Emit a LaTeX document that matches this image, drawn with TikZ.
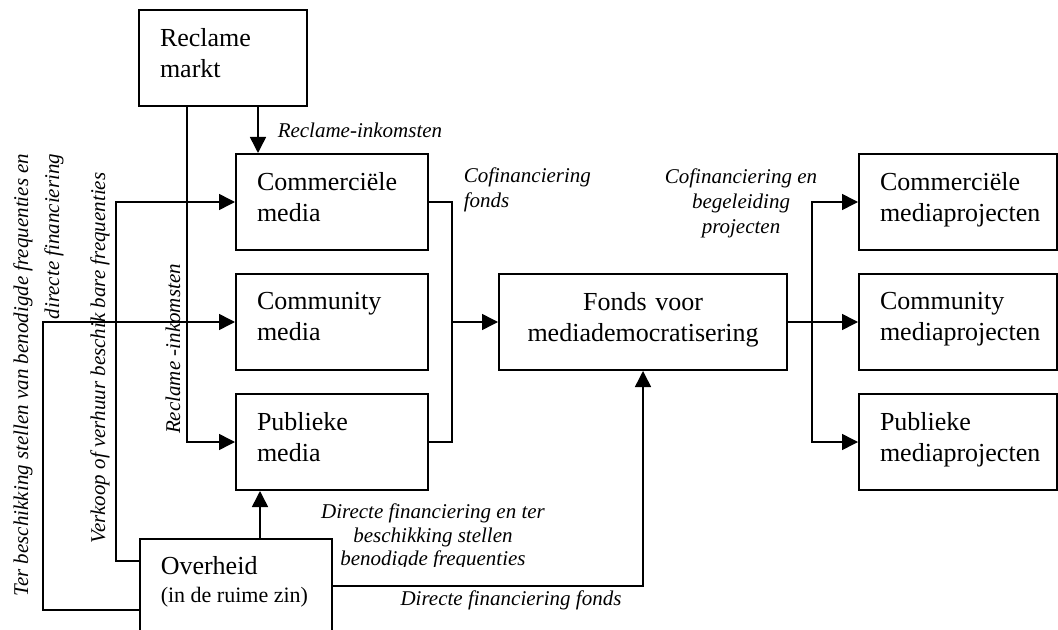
\documentclass[tikz,border=0pt]{standalone}
\usepackage{fontspec}
\setmainfont{Liberation Serif}
\usetikzlibrary{arrows.meta,positioning}

\begin{document}
\begin{tikzpicture}[x=0.5pt, y=-0.5pt, line width=0.75pt, >={Triangle[length=8pt,width=8pt]},
    box/.style={draw, line width=1pt, minimum height=48pt, inner xsep=10.5pt, text depth=21pt, align=left, font=\fontsize{13}{15.5}\selectfont},
    media box/.style={box, text width=75pt},
    project box/.style={box, text width=78pt},
    lbl/.style={inner sep=0pt, font=\fontsize{10.5}{12.5}\selectfont\itshape}]

    \clip (0,0) rectangle (1058,630);

    % Boxes
    \node[box, text width=63pt] (markt) at (223,58) {Reclame\\markt};
    \node[media box] (commercieel) at (332,202) {Commerciële\\media};
    \node[media box] (community) at (332,322) {Community\\media};
    \node[media box] (publiek) at (332,442) {Publieke\\media};
    \node[box, align=center, text width=123pt] (fonds) at (643,322) {Fonds voor\\mediademocratisering};
    \node[project box] (projcom) at (958,202) {Commerciële\\mediaprojecten};
    \node[project box] (projcommunity) at (958,322) {Community\\mediaprojecten};
    \node[project box] (projpub) at (958,442) {Publieke\\mediaprojecten};

    \node[draw, line width=1pt, minimum width=96pt, minimum height=70pt, inner sep=0pt, anchor=north west] (overheid) at (139,538) {};
    \node[anchor=north west, inner sep=0pt, align=left, font=\fontsize{13}{14}\selectfont] (ovtext) at ([xshift=10.5pt,yshift=-9pt]overheid.north west) {Overheid\\{\fontsize{11}{14}\selectfont (in de ruime zin)}};

    % Reclame markt
    \coordinate (marktA) at ([xshift=60pt]markt.south west);
    \coordinate (marktB) at ([xshift=24.5pt]markt.south west);
    \draw[->] (marktA) -- (marktA |- commercieel.north) node[lbl, midway, right=9.5pt] {Reclame-inkomsten};
    \draw[->] (marktB) |- (publiek.west);

    % Overheid
    \coordinate (ovA) at ([yshift=-11.5pt]overheid.north west);
    \coordinate (ovB) at ([yshift=-36pt]overheid.north west);
    \coordinate (ovC) at ([xshift=60.5pt]overheid.north west);
    \coordinate (ovD) at ([yshift=-24pt]overheid.north east);
    \draw[->] (ovA) -- ++(-23,0) |- (commercieel.west);
    \draw[->] (ovB) -- ++(-96,0) |- (community.west);
    \draw[->] (ovC) -- (ovC |- publiek.south);
    \draw[->] (ovD) -| (fonds.south);

    % Cofinanciering
    \coordinate (cofin) at (452,322);
    \draw (commercieel.east) -| (cofin) |- (publiek.east);
    \draw[->] (cofin) -- (fonds.west);

    \coordinate (split) at (812,322);
    \draw[->] (fonds.east) -- (projcommunity.west);
    \draw[->] (split) |- (projcom.west);
    \draw[->] (split) |- (projpub.west);

    % Labels
    \node[lbl, rotate=90] (reclinkB) at (173,349) {Reclame -inkomsten};
    \node[lbl, rotate=90] (verkoop) at (100,358) {Verkoop of verhuur beschik bare frequenties};
    \node[lbl, rotate=90, align=right, anchor=east, font=\fontsize{10.5}{15.5}\selectfont\itshape] (terbeschikking) at (38.5,153) {Ter beschikking stellen van benodigde frequenties en\\directe financiering};
    \node[lbl, anchor=west, align=left] (cofinfonds) at (463,190) {Cofinanciering\\fonds};
    \node[lbl, align=center] (cofinproj) at (741,203) {Cofinanciering en\\begeleiding\\projecten};
    \begin{scope}
        \clip (300,490) rectangle (600,566);
        \node[lbl, align=center, font=\fontsize{10.5}{11.75}\selectfont\itshape] (directpub) at (433,537) {Directe financiering en ter\\beschikking stellen\\benodigde frequenties};
    \end{scope}
    \node[lbl] (directfonds) at (511,600) {Directe financiering fonds};

\end{tikzpicture}
\end{document}
